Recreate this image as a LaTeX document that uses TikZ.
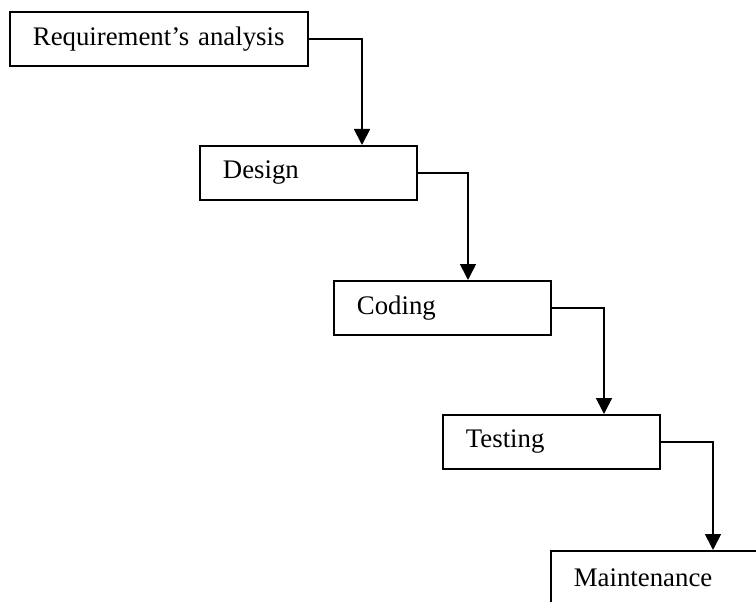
\documentclass[tikz,border=0pt]{standalone}
\usepackage{fontspec}
\setmainfont{Liberation Serif}
\usepackage{tikz}
\usetikzlibrary{arrows.meta, positioning}

\begin{document}
\begin{tikzpicture}[x=1pt, y=-1pt,
			phase/.style={rectangle, draw=black, line width=1.8pt, fill=white,
					anchor=north west, minimum height=54pt, inner xsep=23pt,
					text width=171pt, align=left, font=\fontsize{26.8}{30}\selectfont},
			wide/.style={text width=252pt},
			line/.style={draw, line width=1.8pt, -{Triangle[width=16pt, length=16pt]}}]

		\useasboundingbox (0,0) rectangle (756,602);
		\clip (0,0) rectangle (756,602);

		% Define nodes
		\node [phase, wide] (analysis) at (9,11) {Requirement’s analysis};
		\node [phase] (design) at (199,145) {Design};
		\node [phase] (coding) at (333,280) {Coding};
		\node [phase] (testing) at (442,414) {Testing};
		\node [phase] (maintenance) at (550,550) {Maintenance};

		% Draw connections
		\path [line] (analysis.east) -| ([xshift=163pt]design.north west);
		\path [line] (design.east) -| ([xshift=135pt]coding.north west);
		\path [line] (coding.east) -| ([xshift=162pt]testing.north west);
		\path [line] (testing.east) -| ([xshift=163pt]maintenance.north west);

	\end{tikzpicture}
\end{document}
